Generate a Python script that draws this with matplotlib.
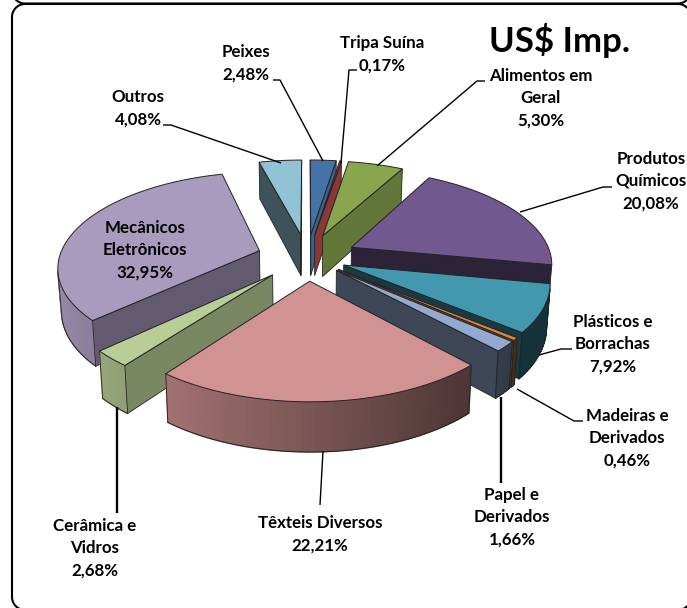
import numpy as np
import matplotlib
matplotlib.use("Agg")
import matplotlib.pyplot as plt
from matplotlib.patches import Polygon

plt.rcParams['font.family'] = ['Lato', 'DejaVu Sans']

categories = ["Peixes", "Tripa Suína", "Alimentos em\nGeral", "Produtos\nQuímicos",
              "Plásticos e\nBorrachas", "Madeiras e\nDerivados", "Papel e\nDerivados",
              "Têxteis Diversos", "Cerâmica e\nVidros", "Mecânicos\nEletrônicos", "Outros"]
values = [2.48, 0.17, 5.30, 20.08, 7.92, 0.46, 1.66, 22.21, 2.68, 32.95, 4.08]

colors = ["#4572A7", "#AA4643", "#89A54E", "#71588F", "#4198AF", "#DB843D",
          "#93A9CF", "#D19392", "#B9CD96", "#A99BBD", "#91C3D5"]
# how dark the flat cut faces look, start face / end face
start_shade = [0.8, 0.8, 0.8, 0.45, 0.4, 0.5, 0.4, 0.5, 0.66, 0.58, 0.42]
end_shade = [0.85, 0.8, 0.72, 0.4, 0.38, 0.5, 0.42, 0.5, 0.66, 0.58, 0.42]
explode = [0.25, 0.25, 0.25, 0.25, 0.2, 0.2, 0.2, 0.25, 0.25, 0.25, 0.25]

# projection of the tilted pie, in pixels
cx, cy = 307, 257
rx, ry = 200, 93
persp = 0.158
height = 42
shrink = 0.985


def project(x, y, low=False):
    s = 1 / (1 + persp * y)
    k = shrink if low else 1
    return (cx + rx * x * s * k, cy - ry * y * s * k + (height * s if low else 0))


def shade(col, f):
    rgb = np.array(matplotlib.colors.to_rgb(col))
    return tuple(rgb * f)


def is_front(pts):
    # screen y is flipped, so the sign of the area says which way it faces
    p = np.array(pts)
    return np.sum(p[:, 0] * np.roll(p[:, 1], -1) - np.roll(p[:, 0], -1) * p[:, 1]) > 0


def quad(ax, pts, col, z, edge="#222222", lw=0.6):
    ax.add_patch(Polygon(pts, closed=True, facecolor=col, edgecolor=edge, linewidth=lw, zorder=z))


def frame(ax, x0, y0, x1, y1, r):
    t = np.linspace(0, np.pi / 2, 12)
    xs = np.concatenate([x0 + r - r * np.cos(t), x1 - r + r * np.sin(t),
                         x1 - r + r * np.cos(t), x0 + r - r * np.sin(t), [x0]])
    ys = np.concatenate([y0 + r - r * np.sin(t), y0 + r - r * np.cos(t),
                         y1 - r + r * np.sin(t), y1 - r + r * np.cos(t), [y0 + r]])
    ax.plot(xs, ys, color="black", lw=1.5, zorder=1)


fig = plt.figure(figsize=(6.87, 6.08), dpi=100)
ax = fig.add_axes([0, 0, 1, 1])
ax.set_xlim(0, 687)
ax.set_ylim(608, 0)
ax.axis("off")

# frames, both run off the picture on the right
frame(ax, 12, -40, 691, 3.5, 13)
frame(ax, 12, 4, 691, 610, 13)

total = sum(values)
edges = np.cumsum([0] + values) / total * 2 * np.pi
mids = (edges[:-1] + edges[1:]) / 2
order = np.argsort(-np.cos(mids))

z = 2
for i in order:
    a0, a1 = edges[i], edges[i + 1]
    ox = explode[i] * np.sin(mids[i])
    oy = explode[i] * np.cos(mids[i])
    arc = np.linspace(a0, a1, max(int((a1 - a0) * 40), 2) + 1)
    ax_, ay_ = ox + np.sin(arc), oy + np.cos(arc)

    top = [project(ox, oy)] + [project(a, b) for a, b in zip(ax_, ay_)]
    apex_low = project(ox, oy, True)

    # cut faces
    start_face = [project(ox, oy), apex_low, project(ax_[0], ay_[0], True), project(ax_[0], ay_[0])]
    end_face = [project(ox, oy), project(ax_[-1], ay_[-1]), project(ax_[-1], ay_[-1], True), apex_low]
    faces = [(start_face, start_shade[i]), (end_face, end_shade[i])]
    for pts, f in faces:
        if is_front(pts):
            quad(ax, pts, shade(colors[i], f), z)
            z += 1

    # outer wall in strips, lighter on the left side
    wall = []
    for j in range(len(arc) - 1):
        pts = [project(ax_[j], ay_[j]), project(ax_[j], ay_[j], True),
               project(ax_[j + 1], ay_[j + 1], True), project(ax_[j + 1], ay_[j + 1])]
        if not is_front(pts):
            continue
        f = np.clip(0.58 - 0.32 * np.sin((arc[j] + arc[j + 1]) / 2), 0.33, 0.95)
        col = shade(colors[i], f)
        quad(ax, pts, col, z, edge=col, lw=1.0)
        wall.append(j)
    z += 1
    if wall:
        idx = wall + [wall[-1] + 1]
        low = [project(ax_[j], ay_[j], True) for j in idx]
        ax.plot(*zip(*low), color="#222222", lw=0.7, zorder=z)
        p0, p1 = project(ax_[idx[0]], ay_[idx[0]]), low[0]
        p2, p3 = project(ax_[idx[-1]], ay_[idx[-1]]), low[-1]
        ax.plot(*zip(p0, p1), color="#222222", lw=0.6, zorder=z)
        ax.plot(*zip(p2, p3), color="#222222", lw=0.6, zorder=z)
        z += 1

    quad(ax, top, colors[i], z, lw=0.7)
    z += 1

# leader lines, label side to slice side
leaders = [
    ([273, 280, 323], [80, 80, 161], 1.0),
    ([357, 349, 341], [70, 70, 163], 1.0),
    ([485, 477, 377], [81, 81, 166], 1.0),
    ([612, 603, 520], [187, 187, 212], 1.0),
    ([572, 561, 539], [349, 349, 355], 1.0),
    ([583, 574, 517], [421, 421, 389], 1.0),
    ([501, 501], [483, 397], 1.7),
    ([320, 323], [505, 451], 1.0),
    ([117, 117], [513, 407], 1.7),
    ([163, 171, 281], [125, 125, 163], 1.0),
]
for xs, ys, lw in leaders:
    ax.plot(xs, ys, color="black", lw=lw, zorder=z, solid_capstyle="butt")

label_x = [246, 382, 541, 651, 613, 627, 512, 320, 95, 145, 138]
label_y = [63, 54, 98, 181, 344, 438, 517, 534, 548, 250, 108]
for i, name in enumerate(categories):
    txt = name + "\n" + f"{values[i]:.2f}".replace(".", ",") + "%"
    ax.text(label_x[i], label_y[i], txt, ha="center", va="center", fontsize=12.2,
            fontweight="bold", linespacing=1.47, color="black", zorder=z + 1)

ax.text(560, 40, "US$ Imp.", ha="center", va="center", fontsize=25, fontweight="bold",
        color="black", zorder=z + 1)

fig.savefig("out.png", dpi=100)
